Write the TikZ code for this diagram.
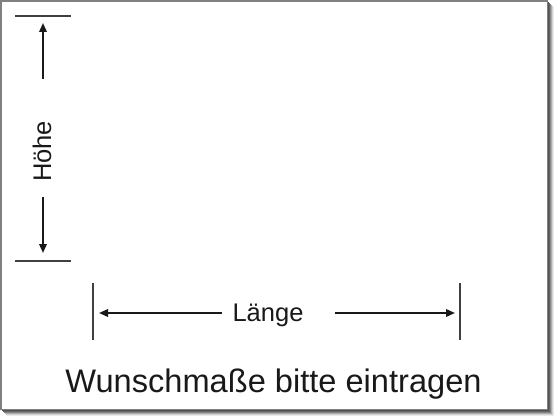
\documentclass[tikz,border=0pt]{standalone}
\usepackage{fontspec}
\setmainfont{Liberation Sans}
\usetikzlibrary{arrows.meta}
\begin{document}
\begin{tikzpicture}[x=1pt,y=-1pt,
  dimarrow/.style={line width=1.8pt,-{Triangle[length=9pt,width=7.5pt]},color=black!90},
  tickline/.style={line width=1.1pt,color=black!75},
  lbl/.style={inner sep=0pt,font=\fontsize{25.5pt}{28pt}\selectfont,text=black!90}]
\useasboundingbox (0,0) rectangle (560,420);
% shadow
\foreach \o/\c in {7/black!8,6/black!18,5/black!32,4/black!48,3/black!60,2/black!68}{
  \fill[\c] (\o,\o) rectangle (547+\o,409+\o);
}
\fill[white] (0,0) rectangle (548,410);
\draw[line width=1.6pt,color=black!50] (0.8,0.8) rectangle (547.5,409.5);
% Hoehe
\coordinate (ht1) at (15,16); \coordinate (ht2) at (71,16);
\coordinate (hb1) at (15,261); \coordinate (hb2) at (71,261);
\draw[tickline] (ht1) -- (ht2);
\draw[tickline] (hb1) -- (hb2);
\coordinate (hua) at (43,79); \coordinate (hub) at (43,23);
\coordinate (hda) at (43,197); \coordinate (hdb) at (43,253);
\draw[dimarrow] (hua) -- (hub);
\draw[dimarrow] (hda) -- (hdb);
\node[lbl,rotate=90] (hoehe) at (42,151.5) {Höhe};
% Laenge
\coordinate (lt1) at (93,283); \coordinate (lt2) at (93,340);
\coordinate (rt1) at (460,283); \coordinate (rt2) at (460,340);
\draw[tickline] (lt1) -- (lt2);
\draw[tickline] (rt1) -- (rt2);
\coordinate (lla) at (222,313); \coordinate (llb) at (99,313);
\coordinate (lra) at (335,313); \coordinate (lrb) at (455,313);
\draw[dimarrow] (lla) -- (llb);
\draw[dimarrow] (lra) -- (lrb);
\node[lbl,anchor=base] (laenge) at (268,321) {Länge};
% bottom text
\node[inner sep=0pt,anchor=base,font=\fontsize{32.6pt}{36pt}\selectfont,text=black!90] (wunsch) at (273.5,392) {Wunschmaße bitte eintragen};
\end{tikzpicture}
\end{document}
